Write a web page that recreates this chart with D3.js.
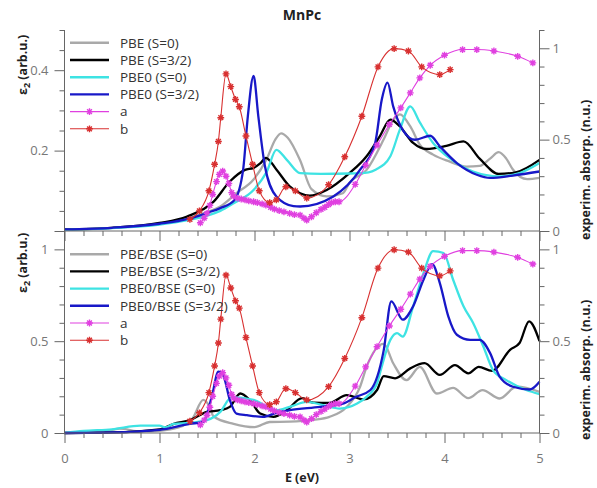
<!DOCTYPE html>
<html>
<head>
<meta charset="utf-8">
<script src="https://cdnjs.cloudflare.com/ajax/libs/d3/7.8.5/d3.min.js"></script>
<style>
  body { margin: 0; background: #fff; }
  text { font-family: 'Open Sans', sans-serif; }
</style>
</head>
<body>
<svg id="chart" width="597" height="488"></svg>
<script>
// data: [E (eV), value]
var pbeS0 = [[0,0.004],[0.5,0.008],[1.0,0.018],[1.3,0.032],[1.5,0.047],[1.64,0.061],[1.81,0.094],[1.99,0.128],[2.13,0.18],[2.22,0.228],[2.28,0.243],[2.35,0.232],[2.48,0.176],[2.6,0.104],[2.76,0.086],[2.93,0.094],[3.0,0.12],[3.18,0.152],[3.36,0.228],[3.45,0.272],[3.53,0.29],[3.64,0.26],[3.74,0.215],[3.88,0.19],[4.05,0.173],[4.23,0.16],[4.37,0.162],[4.48,0.18],[4.57,0.196],[4.65,0.18],[4.72,0.153],[4.87,0.129],[5.0,0.132]];
var pbeS32 = [[0,0.004],[0.5,0.008],[1.0,0.02],[1.29,0.036],[1.57,0.073],[1.74,0.123],[1.9,0.152],[1.99,0.157],[2.06,0.168],[2.12,0.182],[2.23,0.153],[2.37,0.111],[2.48,0.094],[2.58,0.088],[2.76,0.102],[3.0,0.144],[3.18,0.186],[3.32,0.236],[3.43,0.277],[3.53,0.26],[3.67,0.219],[3.81,0.204],[4.02,0.212],[4.2,0.223],[4.37,0.18],[4.57,0.142],[4.75,0.146],[5.0,0.177]];
var pbe0S0 = [[0,0.003],[0.5,0.007],[1.0,0.016],[1.3,0.027],[1.5,0.038],[1.64,0.05],[1.78,0.069],[1.99,0.102],[2.13,0.148],[2.23,0.202],[2.34,0.177],[2.48,0.144],[2.7,0.142],[3.0,0.143],[3.2,0.146],[3.28,0.153],[3.43,0.186],[3.53,0.252],[3.64,0.31],[3.74,0.27],[3.88,0.219],[4.06,0.18],[4.3,0.148],[4.58,0.136],[4.79,0.144],[5.0,0.169]];
var pbe0S32 = [[0,0.004],[0.5,0.008],[1.0,0.018],[1.3,0.03],[1.5,0.045],[1.64,0.057],[1.79,0.077],[1.88,0.152],[1.93,0.286],[1.99,0.386],[2.04,0.286],[2.11,0.161],[2.23,0.086],[2.41,0.062],[2.48,0.061],[2.83,0.086],[3.11,0.152],[3.27,0.219],[3.34,0.327],[3.4,0.369],[3.46,0.31],[3.57,0.248],[3.69,0.227],[3.85,0.237],[3.95,0.211],[4.13,0.169],[4.34,0.14],[4.48,0.132],[4.72,0.138],[5.0,0.148]];

var bsePbeS0 = [[0,0],[0.4,0.006],[0.58,0.024],[0.8,0.008],[1.0,0.012],[1.2,0.03],[1.35,0.08],[1.46,0.18],[1.52,0.15],[1.57,0.09],[1.78,0.05],[2.0,0.032],[2.16,0.06],[2.37,0.062],[2.62,0.072],[2.79,0.088],[2.97,0.142],[3.11,0.25],[3.18,0.36],[3.36,0.485],[3.46,0.38],[3.6,0.288],[3.74,0.36],[3.92,0.215],[4.09,0.246],[4.25,0.19],[4.4,0.234],[4.58,0.188],[4.76,0.252],[5.0,0.224]];
var bsePbeS32 = [[0,0],[0.5,0.003],[1.0,0.02],[1.15,0.05],[1.32,0.07],[1.5,0.115],[1.64,0.124],[1.74,0.142],[1.85,0.215],[1.95,0.18],[2.06,0.106],[2.2,0.088],[2.34,0.124],[2.5,0.19],[2.62,0.165],[2.79,0.164],[2.97,0.206],[3.15,0.183],[3.29,0.234],[3.36,0.31],[3.48,0.298],[3.64,0.352],[3.79,0.38],[3.95,0.316],[4.11,0.37],[4.25,0.325],[4.36,0.36],[4.5,0.338],[4.69,0.453],[4.79,0.49],[4.89,0.608],[5.0,0.5]];
var bsePbe0S0 = [[0,0],[0.2,0.011],[0.5,0.02],[0.8,0.04],[1.0,0.04],[1.06,0.03],[1.15,0.05],[1.3,0.055],[1.5,0.07],[1.64,0.115],[1.76,0.195],[1.99,0.18],[2.23,0.124],[2.37,0.142],[2.55,0.17],[2.72,0.152],[2.9,0.133],[3.08,0.16],[3.18,0.197],[3.29,0.27],[3.32,0.325],[3.43,0.507],[3.5,0.544],[3.56,0.525],[3.67,0.69],[3.78,0.872],[3.88,0.99],[3.99,0.98],[4.09,0.836],[4.2,0.69],[4.3,0.6],[4.41,0.47],[4.51,0.343],[4.65,0.288],[4.86,0.234],[5.0,0.212]];
var bsePbe0S32 = [[0,0],[0.5,0.003],[1.0,0.017],[1.32,0.05],[1.46,0.06],[1.55,0.197],[1.62,0.334],[1.67,0.316],[1.74,0.18],[1.81,0.106],[1.92,0.097],[2.09,0.088],[2.23,0.11],[2.37,0.124],[2.69,0.142],[2.93,0.16],[3.07,0.197],[3.22,0.234],[3.36,0.45],[3.44,0.717],[3.56,0.617],[3.67,0.69],[3.78,0.836],[3.87,0.92],[3.95,0.818],[4.04,0.635],[4.13,0.535],[4.27,0.507],[4.37,0.507],[4.48,0.435],[4.58,0.307],[4.72,0.252],[4.9,0.237],[5.0,0.279]];

// experimental (normalized)
var expA = [[1.43,0.045],[1.47,0.07],[1.5,0.097],[1.53,0.14],[1.56,0.2],[1.6,0.27],[1.63,0.31],[1.665,0.328],[1.7,0.3],[1.73,0.26],[1.76,0.21],[1.78,0.19],[1.82,0.18],[1.86,0.175],[1.9,0.17],[1.94,0.165],[1.99,0.16],[2.03,0.155],[2.08,0.148],[2.12,0.142],[2.17,0.13],[2.21,0.12],[2.26,0.112],[2.31,0.105],[2.37,0.097],[2.42,0.09],[2.48,0.087],[2.52,0.07],[2.55,0.06],[2.6,0.078],[2.65,0.1],[2.7,0.118],[2.74,0.13],[2.78,0.145],[2.81,0.155],[2.85,0.16],[2.89,0.16],[3.06,0.255],[3.17,0.36],[3.29,0.47],[3.42,0.583],[3.54,0.674],[3.64,0.756],[3.74,0.838],[3.85,0.907],[4.0,0.962],[4.19,0.993],[4.34,0.993],[4.52,0.985],[4.77,0.956],[4.93,0.92]];
var expB = [[1.32,0.064],[1.42,0.11],[1.52,0.22],[1.58,0.365],[1.62,0.49],[1.645,0.62],[1.7,0.86],[1.75,0.79],[1.8,0.72],[1.84,0.68],[1.91,0.52],[1.98,0.365],[2.05,0.22],[2.16,0.155],[2.23,0.17],[2.33,0.242],[2.43,0.22],[2.55,0.18],[2.78,0.253],[2.95,0.406],[3.13,0.628],[3.3,0.898],[3.47,0.998],[3.62,0.985],[3.76,0.898],[3.95,0.856],[4.06,0.883]];

var topNames = ['PBE (S=0)', 'PBE (S=3/2)', 'PBE0 (S=0)', 'PBE0 (S=3/2)', 'a', 'b'];
var botNames = ['PBE/BSE (S=0)', 'PBE/BSE (S=3/2)', 'PBE0/BSE (S=0)', 'PBE0/BSE (S=3/2)', 'a', 'b'];
var colors = ['#a9a9a9', '#000000', '#3ee3e3', '#1818c8', '#e040e0', '#d83030'];

var svg = d3.select('#chart');
var axisColor = '#666';
var labelColor = '#777';

var x = d3.scaleLinear().domain([0, 5]).range([64.5, 539.5]);
var yTopL = d3.scaleLinear().domain([0, 0.5]).range([231, 30]);
var yTopR = d3.scaleLinear().domain([0, 1.1]).range([231, 30]);
var yBot = d3.scaleLinear().domain([0, 1.1]).range([433, 231]);

function asterisk(r) {
  var s = r * Math.SQRT1_2;
  return 'M' + (-r) + ',0L' + r + ',0M0,' + (-r) + 'L0,' + r +
    'M' + (-s) + ',' + (-s) + 'L' + s + ',' + s + 'M' + (-s) + ',' + s + 'L' + s + ',' + (-s);
}

function styleAxis(g) {
  g.select('.domain').remove();
  g.selectAll('line').attr('stroke', axisColor).attr('stroke-width', 1);
  g.selectAll('text').attr('fill', labelColor).style('font-size', '13px');
}

// curves
function drawPanel(series, yL, yR) {
  var g = svg.append('g');
  var lineL = d3.line().x(d => x(d[0])).y(d => yL(d[1])).curve(d3.curveMonotoneX);
  var lineR = d3.line().x(d => x(d[0])).y(d => yR(d[1])).curve(d3.curveMonotoneX);
  series.slice(0, 4).forEach(function (s, i) {
    g.append('path').datum(s).attr('d', lineL)
      .attr('fill', 'none').attr('stroke', colors[i]).attr('stroke-width', 2.3);
  });
  [expA, expB].forEach(function (s, j) {
    var c = colors[4 + j];
    g.append('path').datum(s).attr('d', lineR)
      .attr('fill', 'none').attr('stroke', c).attr('stroke-width', 1.1);
    g.selectAll('.m' + j).data(s).enter().append('path')
      .attr('transform', d => 'translate(' + x(d[0]) + ',' + yR(d[1]) + ')')
      .attr('d', asterisk(3.4))
      .attr('stroke', c).attr('stroke-width', 1.4).attr('fill', 'none');
  });
}

drawPanel([pbeS0, pbeS32, pbe0S0, pbe0S32], yTopL, yTopR);
drawPanel([bsePbeS0, bsePbeS32, bsePbe0S0, bsePbe0S32], yBot, yBot);

// frame lines
svg.append('line').attr('x1', 64.5).attr('x2', 64.5).attr('y1', 30).attr('y2', 433).attr('stroke', axisColor);
svg.append('line').attr('x1', 539.5).attr('x2', 539.5).attr('y1', 30).attr('y2', 433).attr('stroke', axisColor);
svg.append('line').attr('x1', 64.5).attr('x2', 539.5).attr('y1', 231).attr('y2', 231).attr('stroke', axisColor);
svg.append('line').attr('x1', 64.5).attr('x2', 539.5).attr('y1', 433).attr('y2', 433).attr('stroke', axisColor);

// x axes
var xMinor = d3.range(0, 5.01, 0.2).filter(v => Math.abs(v - Math.round(v)) > 0.01);
[231, 433].forEach(function (yy, k) {
  svg.append('g').attr('transform', 'translate(0,' + yy + ')')
    .call(d3.axisBottom(x).tickValues(xMinor).tickSize(5).tickFormat(''))
    .call(styleAxis);
  svg.append('g').attr('transform', 'translate(0,' + yy + ')')
    .call(d3.axisBottom(x).tickValues([0, 1, 2, 3, 4, 5]).tickSize(10).tickPadding(11)
      .tickFormat(k == 1 ? d3.format('d') : ''))
    .call(styleAxis);
});

// y axes
function yAxes(scale, side, minor, major, labelled, fmt) {
  var xx = side == 'left' ? 64.5 : 539.5;
  var mk = side == 'left' ? d3.axisLeft : d3.axisRight;
  svg.append('g').attr('transform', 'translate(' + xx + ',0)')
    .call(mk(scale).tickValues(minor).tickSize(5).tickFormat(''))
    .call(styleAxis);
  svg.append('g').attr('transform', 'translate(' + xx + ',0)')
    .call(mk(scale).tickValues(major).tickSize(10).tickPadding(side == 'left' ? 6 : 3)
      .tickFormat(d => labelled.indexOf(d) >= 0 ? fmt(d) : ''))
    .call(styleAxis);
}
var fmtG = d => String(+d.toFixed(2));
yAxes(yTopL, 'left', [0.05, 0.1, 0.15, 0.25, 0.3, 0.35, 0.45, 0.5], [0, 0.2, 0.4], [0.2, 0.4], fmtG);
yAxes(yTopR, 'right', [0.1, 0.2, 0.3, 0.4, 0.6, 0.7, 0.8, 0.9, 1.1], [0, 0.5, 1], [0, 0.5, 1], fmtG);
yAxes(yBot, 'left', [0.1, 0.2, 0.3, 0.4, 0.6, 0.7, 0.8, 0.9], [0, 0.5, 1], [0, 0.5, 1], fmtG);
yAxes(yBot, 'right', [0.1, 0.2, 0.3, 0.4, 0.6, 0.7, 0.8, 0.9], [0, 0.5, 1], [0, 0.5, 1], fmtG);

// legends
function legend(names, y0) {
  var g = svg.append('g');
  names.forEach(function (n, i) {
    var yy = y0 + i * 17.2;
    g.append('line').attr('x1', 70).attr('x2', 109).attr('y1', yy).attr('y2', yy)
      .attr('stroke', colors[i]).attr('stroke-width', i < 4 ? 2.4 : 1.1);
    if (i >= 4) {
      g.append('path').attr('transform', 'translate(89.5,' + yy + ')')
        .attr('d', asterisk(3.4)).attr('stroke', colors[i]).attr('stroke-width', 1.4);
    }
    g.append('text').attr('x', 120).attr('y', yy).attr('dy', '0.36em')
      .style('font-size', '13.5px').attr('fill', '#333').text(n);
  });
}
legend(topNames, 42.8);
legend(botNames, 254.2);

// titles
svg.append('text').attr('x', 302).attr('y', 20).attr('text-anchor', 'middle')
  .style('font-size', '14px').style('font-weight', 'bold').attr('fill', '#222').text('MnPc');
svg.append('text').attr('x', 302).attr('y', 482).attr('text-anchor', 'middle')
  .style('font-size', '12.5px').style('font-weight', 'bold').attr('fill', '#222').text('E (eV)');

function yLabel(xx, yy, isEps) {
  var t = svg.append('text').attr('transform', 'translate(' + xx + ',' + yy + ') rotate(-90)')
    .style('font-size', '12.5px').style('font-weight', 'bold').attr('fill', '#222');
  if (isEps) {
    t.append('tspan').text('ε');
    t.append('tspan').attr('dy', 3).style('font-size', '9px').text('2');
    t.append('tspan').attr('dy', -3).text(' (arb.u.)');
  } else {
    t.text('experim. absorp. (n.u.)');
  }
}
yLabel(27, 95, true);
yLabel(27, 293, true);
yLabel(590, 240, false);
yLabel(590, 440, false);
</script>
</body>
</html>
